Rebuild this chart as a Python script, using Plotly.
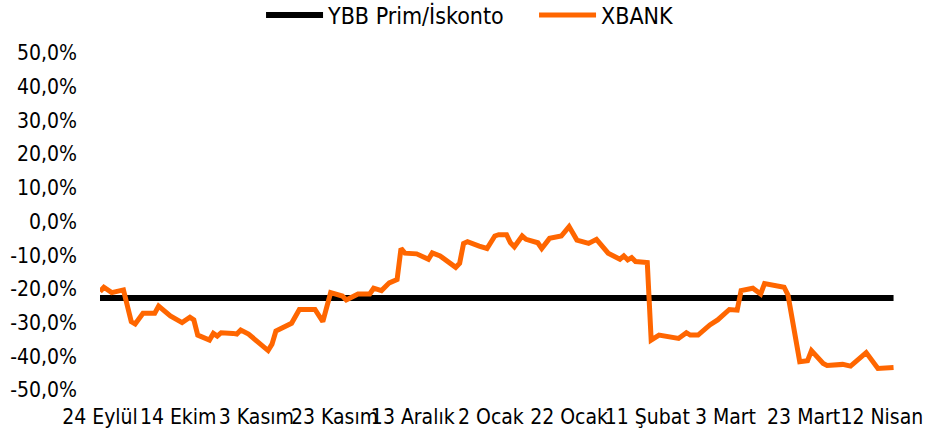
import plotly.graph_objects as go

# Data
dates = [
    "2021-09-24", "2021-09-25", "2021-09-27", "2021-09-30", "2021-10-02", "2021-10-03",
    "2021-10-05", "2021-10-08", "2021-10-09", "2021-10-11", "2021-10-12", "2021-10-15",
    "2021-10-17", "2021-10-18", "2021-10-19", "2021-10-22", "2021-10-23", "2021-10-24",
    "2021-10-25", "2021-10-28", "2021-10-29", "2021-10-30", "2021-11-01", "2021-11-06",
    "2021-11-07", "2021-11-08", "2021-11-12", "2021-11-14", "2021-11-18", "2021-11-20",
    "2021-11-22", "2021-11-25", "2021-11-26", "2021-11-29", "2021-12-02", "2021-12-03",
    "2021-12-05", "2021-12-07", "2021-12-09", "2021-12-10", "2021-12-11", "2021-12-14",
    "2021-12-17", "2021-12-18", "2021-12-20", "2021-12-24", "2021-12-25", "2021-12-26",
    "2021-12-27", "2021-12-30", "2022-01-01", "2022-01-03", "2022-01-04", "2022-01-06",
    "2022-01-07", "2022-01-08", "2022-01-10", "2022-01-11", "2022-01-14", "2022-01-15",
    "2022-01-17", "2022-01-20", "2022-01-22", "2022-01-24", "2022-01-27", "2022-01-29",
    "2022-02-01", "2022-02-04", "2022-02-05", "2022-02-06", "2022-02-07", "2022-02-08",
    "2022-02-11", "2022-02-12", "2022-02-14", "2022-02-19", "2022-02-21", "2022-02-22",
    "2022-02-24", "2022-02-27", "2022-03-01", "2022-03-04", "2022-03-06", "2022-03-07",
    "2022-03-10", "2022-03-12", "2022-03-13", "2022-03-18", "2022-03-19", "2022-03-22",
    "2022-03-24", "2022-03-25", "2022-03-28", "2022-03-29", "2022-04-02", "2022-04-04",
    "2022-04-08", "2022-04-11", "2022-04-15",
]

xbank = [
    -20.8, -19.5, -21.1, -20.3, -29.7, -30.4,
    -27.2, -27.2, -25.1, -27.1, -28.0, -30.0,
    -28.4, -29.2, -33.7, -35.2, -33.2, -34.0,
    -33.0, -33.2, -33.4, -32.2, -33.4, -38.3,
    -36.4, -32.5, -30.2, -26.1, -26.1, -29.7,
    -21.1, -22.1, -23.3, -21.5, -21.5, -19.8,
    -20.5, -18.2, -17.2, -8.0, -9.4, -9.6,
    -11.2, -9.3, -10.2, -13.6, -12.4, -6.5,
    -6.0, -7.3, -8.0, -4.3, -3.9, -3.9,
    -6.3, -7.5, -4.3, -5.3, -6.3, -8.0,
    -5.0, -4.3, -1.5, -5.5, -6.5, -5.3,
    -9.4, -11.2, -10.2, -11.4, -10.7, -11.9,
    -12.2, -35.2, -33.7, -34.7, -33.0, -33.7,
    -33.7, -30.7, -29.2, -26.1, -26.3, -20.5,
    -19.8, -21.5, -18.4, -19.5, -21.8, -41.6,
    -41.3, -38.3, -42.1, -42.7, -42.4, -42.9,
    -38.9, -43.6, -43.3,
]

ybb_level = -22.7
ybb = [ybb_level] * len(dates)

tick_dates = ["2021-09-24", "2021-10-14", "2021-11-03", "2021-11-23", "2021-12-13",
              "2022-01-02", "2022-01-22", "2022-02-11", "2022-03-03", "2022-03-23",
              "2022-04-12"]
tick_labels = ["24 Eylül", "14 Ekim", "3 Kasım", "23 Kasım", "13 Aralık", "2 Ocak",
               "22 Ocak", "11 Şubat", "3 Mart", "23 Mart", "12 Nisan"]

y_ticks = [50, 40, 30, 20, 10, 0, -10, -20, -30, -40, -50]
y_labels = ["50,0%", "40,0%", "30,0%", "20,0%", "10,0%", "0,0%", "-10,0%", "-20,0%",
            "-30,0%", "-40,0%", "-50,0%"]

FONT = "DejaVu Sans Condensed"

fig = go.Figure()
fig.add_trace(go.Scatter(x=dates, y=ybb, mode="lines", name="YBB Prim/İskonto",
                         line=dict(color="#000000", width=6)))
fig.add_trace(go.Scatter(x=dates, y=xbank, mode="lines", name="XBANK",
                         line=dict(color="#FF6600", width=5)))

fig.update_layout(
    width=926, height=436,
    margin=dict(l=100, r=16, t=53, b=46, autoexpand=False),
    paper_bgcolor="white", plot_bgcolor="white",
    font=dict(family=FONT, size=21, color="#000000"),
    showlegend=True,
    legend=dict(orientation="h", xref="container", yref="container",
                x=0.2819, xanchor="left", y=0.9656, yanchor="middle",
                font=dict(family=FONT, size=23, color="#000000"),
                itemwidth=57, entrywidth=201, entrywidthmode="pixels",
                bgcolor="rgba(0,0,0,0)"),
    xaxis=dict(type="date", range=["2021-09-24", "2022-04-19 05:00"],
               tickvals=tick_dates, ticktext=tick_labels, tickangle=0,
               showgrid=False, zeroline=False, showline=False, ticks="",
               automargin=False, ticklabelstandoff=12,
               tickfont=dict(family=FONT, size=21, color="#000000")),
    yaxis=dict(range=[-50, 50], tickvals=y_ticks, ticktext=y_labels,
               showgrid=False, zeroline=False, showline=False, ticks="",
               automargin=False, ticklabelstandoff=22,
               tickfont=dict(family=FONT, size=21, color="#000000")),
)

fig.write_html("out.html", config={"displayModeBar": False},
               post_script="document.body.style.margin='0px';document.body.style.overflow='hidden';")
